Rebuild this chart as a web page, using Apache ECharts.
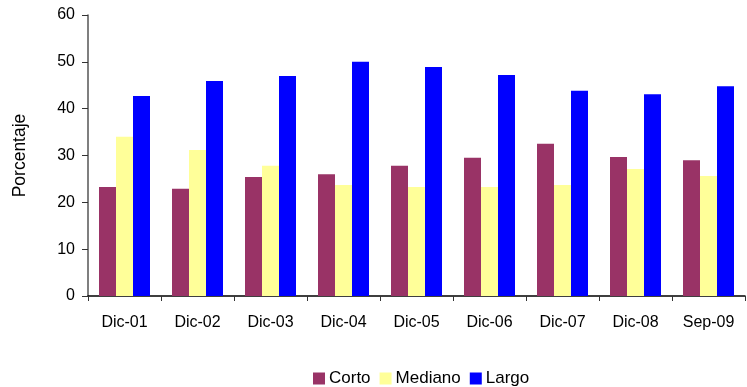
<!DOCTYPE html>
<html>
<head>
<meta charset="utf-8">
<script src="https://cdn.jsdelivr.net/npm/echarts@6/dist/echarts.min.js"></script>
<style>
  html, body { margin: 0; padding: 0; background: #fff; }
  #chart { width: 747px; height: 387px; }
</style>
</head>
<body>
<div id="chart"></div>
<script>
// Categories (period) and percentage per term bucket
const categories = ['Dic-01', 'Dic-02', 'Dic-03', 'Dic-04', 'Dic-05', 'Dic-06', 'Dic-07', 'Dic-08', 'Sep-09'];
const corto   = [23.3, 22.9, 25.4, 26.0, 27.8, 29.5, 32.5, 29.7, 29.0];
const mediano = [34.0, 31.2, 27.8, 23.7, 23.3, 23.3, 23.7, 27.1, 25.6];
const largo   = [42.7, 45.9, 47.0, 50.0, 48.9, 47.2, 43.8, 43.1, 44.8];
const yTicks  = [0, 10, 20, 30, 40, 50, 60];

const font = 'Liberation Sans, Arial, sans-serif';
const chart = echarts.init(document.getElementById('chart'), null, { renderer: 'canvas' });

chart.setOption({
  animation: false,
  backgroundColor: '#ffffff',
  textStyle: { fontFamily: font },
  grid: { left: 88, right: 2, top: 15, bottom: 91, containLabel: false },
  legend: {
    data: ['Corto', 'Mediano', 'Largo'],
    left: 313,
    top: 370,
    padding: 0,
    itemWidth: 12,
    itemHeight: 12,
    itemGap: 9,
    icon: 'rect',
    textStyle: { fontFamily: font, fontSize: 17, color: '#000', padding: [0, 0, 0, -1] }
  },
  xAxis: {
    type: 'category',
    data: categories,
    axisLine: { lineStyle: { color: '#000', width: 1.5 } },
    axisTick: { show: true, alignWithLabel: false, length: 5, lineStyle: { color: '#333' } },
    axisLabel: { color: '#000', fontSize: 16, fontFamily: font, margin: 19 },
    splitLine: { show: false }
  },
  yAxis: {
    type: 'value',
    min: yTicks[0],
    max: yTicks[yTicks.length - 1],
    interval: 10,
    name: 'Porcentaje',
    nameLocation: 'middle',
    nameRotate: 90,
    nameGap: 59,
    nameTextStyle: { color: '#000', fontSize: 17.5, fontFamily: font },
    axisLine: { show: true, lineStyle: { color: '#555', width: 1.5 } },
    axisTick: { show: true, length: 6, lineStyle: { color: '#333' } },
    axisLabel: { color: '#000', fontSize: 16, fontFamily: font, margin: 13 },
    splitLine: { show: false }
  },
  series: [
    { name: 'Corto', type: 'bar', data: corto, barWidth: 17, barGap: '0%',
      itemStyle: { color: '#993366' } },
    { name: 'Mediano', type: 'bar', data: mediano, barWidth: 17, barGap: '0%',
      itemStyle: { color: '#FFFF99' } },
    { name: 'Largo', type: 'bar', data: largo, barWidth: 17, barGap: '0%',
      itemStyle: { color: '#0000FF' } }
  ]
});
</script>
</body>
</html>
